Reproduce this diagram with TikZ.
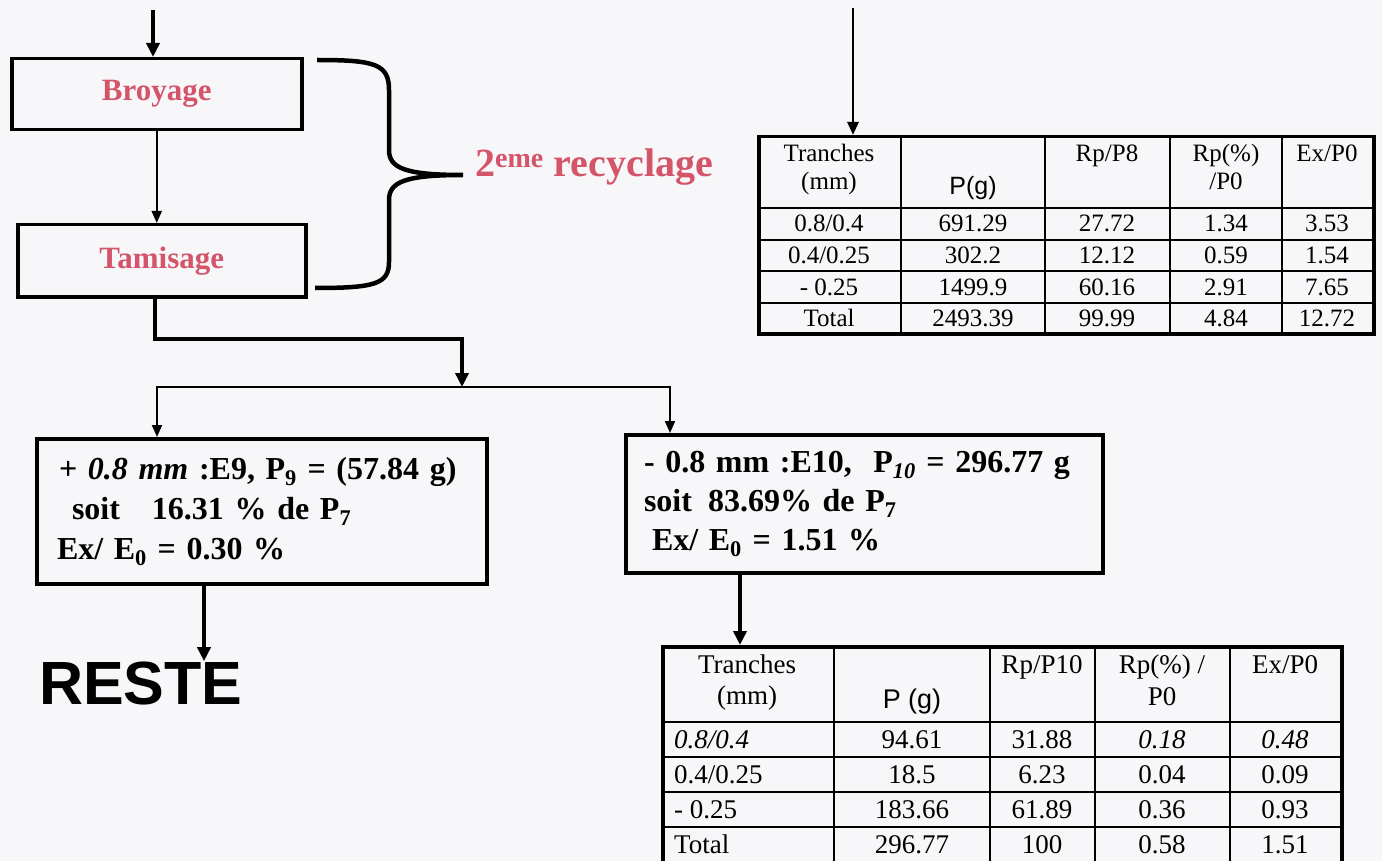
\documentclass[tikz,border=0pt]{standalone}
\usepackage{fontspec}
\setmainfont{Liberation Serif}[
  BoldFont={Liberation Serif Bold},
  ItalicFont={Liberation Serif Italic},
  BoldItalicFont={Liberation Serif Bold Italic}]
\newfontfamily\headsans{Liberation Sans}
\usepackage{xcolor}
\usetikzlibrary{positioning,arrows.meta,calc}

\definecolor{procpink}{RGB}{212,84,106}
\definecolor{paper}{RGB}{247,247,249}

\tikzset{
  procbox/.style={draw, line width=3.5pt, anchor=north west, inner sep=0pt,
    font=\fontsize{31}{36}\selectfont\bfseries, text=procpink},
  resbox/.style={draw, line width=4pt, anchor=north west, align=left,
    inner ysep=0pt},
  tabframe/.style={draw, line width=3.5pt, anchor=north west, inner sep=0pt},
  tabrule/.style={line width=1.8pt},
  cell/.style={inner sep=0pt, anchor=base},
  cellA/.style={cell, font=\fontsize{25}{28}\selectfont},
  cellB/.style={cell, font=\fontsize{27}{30}\selectfont},
  thickarrow/.style={line width=4pt, -{Triangle[length=14pt,width=13pt]}},
  medarrow/.style={line width=2.6pt, -{Triangle[length=13pt,width=11pt]}},
  thinarrow/.style={line width=2pt, -{Triangle[length=12pt,width=10pt]}},
}

\begin{document}
\begin{tikzpicture}[x=1pt, y=-1pt]
  \useasboundingbox (0,0) rectangle (1382,861);
  \fill[paper] (0,0) rectangle (1382,861);

  % process boxes
  \node[procbox, minimum width=290pt, minimum height=71pt] (broyage) at (10,57) {Broyage};
  \node[procbox, minimum width=288pt, minimum height=72pt] (tamisage) at (16,223) {Tamisage};

  % brace and label
  \draw[line width=4.5pt] (317,60) .. controls (375,60) and (389,64) .. (389,90) -- (389,150)
    .. controls (389,168) and (405,175) .. (463,175)
    .. controls (405,175) and (389,182) .. (389,200) -- (389,262)
    .. controls (389,284) and (375,288) .. (315,288);
  \node[anchor=base west, inner sep=0pt, text=procpink,
    font=\fontsize{40}{44}\selectfont\bfseries] (recyc) at (475,177) {2\textsuperscript{eme} recyclage};

  % result boxes
  \node[resbox, inner xsep=20pt, minimum width=450pt, minimum height=145pt, text width=410pt,
    font=\fontsize{32}{40}\selectfont\bfseries] (plusbox) at (35,437)
    {\mbox{\hspace*{2pt}+ \textit{0.8 mm} :E9, P\textsubscript{9} = (57.84 g)}\\
     \hspace*{15pt}soit\hspace{1em}16.31 \% de P\textsubscript{7}\\
     Ex/ E\textsubscript{0} = 0.30 \%};
  \node[resbox, inner xsep=18pt, minimum width=477pt, minimum height=138pt, text width=441pt,
    font=\fontsize{32}{39}\selectfont\bfseries] (minusbox) at (624,433)
    {- 0.8 mm :E10,\ \ P\textsubscript{\textit{10}} = 296.77 g\\
     soit\hspace{0.5em}83.69\% de P\textsubscript{7}\\
     \hspace*{8pt}Ex/ E\textsubscript{0} = 1.51 \%};
  \node[anchor=base west, inner sep=0pt,
    font=\headsans\fontsize{61}{64}\selectfont\bfseries] (reste) at (39,704) {RESTE};

  % connectors
  \coordinate (feed) at (153,10);
  \draw[thickarrow] (feed) -- (feed |- broyage.north);
  \draw[thinarrow] (broyage.south) -- (broyage.south |- tamisage.north);
  \coordinate (elbow) at (462,339);
  \coordinate (split) at (462,387);
  \draw[thickarrow] ([xshift=-7pt]tamisage.south) |- (elbow) -- (split);
  \coordinate (lbranch) at (157,387);
  \coordinate (rbranch) at (670,387);
  \draw[thinarrow] (split) -- (lbranch) -- (lbranch |- plusbox.north);
  \draw[thinarrow] (split) -- (rbranch) -- (rbranch |- minusbox.north);
  \coordinate (drop) at (204,0);
  \draw[thickarrow] (drop |- plusbox.south) -- (drop |- reste.north);

  % table after the 2nd recycling
  \node[tabframe, minimum width=615pt, minimum height=197pt] (tabA) at (757,135) {};
  \foreach \cx in {901,1045,1170,1282} \draw[tabrule] (\cx,135) -- (\cx,332);
  \foreach \ry in {208,240,271,303} \draw[tabrule] (757,\ry) -- (1372,\ry);
  \coordinate (feedA) at (853,8);
  \draw[medarrow] (feedA) -- (feedA |- tabA.north);
  \node[cellA] (hA1) at (829,162) {Tranches};
  \node[cellA] (hA1b) at (829,190) {(mm)};
  \node[cellA, font=\headsans\fontsize{25}{28}\selectfont] (hA2) at (973,195) {P(g)};
  \node[cellA] (hA3) at (1107,162) {Rp/P8};
  \node[cellA] (hA4) at (1226,162) {Rp(\%)};
  \node[cellA] (hA4b) at (1226,190) {/P0};
  \node[cellA] (hA5) at (1327,162) {Ex/P0};
  \node[cellA] (tA1) at (829,232) {0.8/0.4};
  \node[cellA] (tA2) at (829,264) {0.4/0.25};
  \node[cellA] (tA3) at (829,295) {- 0.25};
  \node[cellA] (tA4) at (829,326) {Total};
  \foreach \ry/\pa/\pb/\pc/\pd [count=\i] in
    {232/691.29/27.72/1.34/3.53, 264/302.2/12.12/0.59/1.54,
     295/1499.9/60.16/2.91/7.65, 326/2493.39/99.99/4.84/12.72} {
    \node[cellA] (pA-\i) at (973,\ry) {\pa};
    \node[cellA] (rA-\i) at (1107,\ry) {\pb};
    \node[cellA] (qA-\i) at (1226,\ry) {\pc};
    \node[cellA] (eA-\i) at (1327,\ry) {\pd};
  }

  % table of the fine fraction
  \node[tabframe, minimum width=679pt, minimum height=216pt] (tabB) at (661,645) {};
  \foreach \cx in {834,990,1095,1230} \draw[tabrule] (\cx,645) -- (\cx,861);
  \foreach \ry in {722,757,792,827} \draw[tabrule] (661,\ry) -- (1340,\ry);
  \coordinate (feedB) at (740,0);
  \draw[thickarrow] (feedB |- minusbox.south) -- (feedB |- tabB.north);
  \node[cellB] (hB1) at (747,673) {Tranches};
  \node[cellB] (hB1b) at (747,704) {(mm)};
  \node[cellB, font=\headsans\fontsize{27}{30}\selectfont] (hB2) at (912,708) {P (g)};
  \node[cellB] (hB3) at (1042,673) {Rp/P10};
  \node[cellB] (hB4) at (1162,673) {Rp(\%) /};
  \node[cellB] (hB4b) at (1162,705) {P0};
  \node[cellB] (hB5) at (1285,673) {Ex/P0};
  \node[cellB, anchor=base west] (tB1) at (674,748) {\textit{0.8/0.4}};
  \node[cellB, anchor=base west] (tB2) at (674,783) {0.4/0.25};
  \node[cellB, anchor=base west] (tB3) at (674,818) {- 0.25};
  \node[cellB, anchor=base west] (tB4) at (674,853) {Total};
  \foreach \ry/\pa/\pb/\pc/\pd [count=\i] in
    {748/94.61/31.88/\textit{0.18}/\textit{0.48}, 783/18.5/6.23/0.04/0.09,
     818/183.66/61.89/0.36/0.93, 853/296.77/100/0.58/1.51} {
    \node[cellB] (pB-\i) at (912,\ry) {\pa};
    \node[cellB] (rB-\i) at (1042,\ry) {\pb};
    \node[cellB] (qB-\i) at (1162,\ry) {\pc};
    \node[cellB] (eB-\i) at (1285,\ry) {\pd};
  }
\end{tikzpicture}
\end{document}
